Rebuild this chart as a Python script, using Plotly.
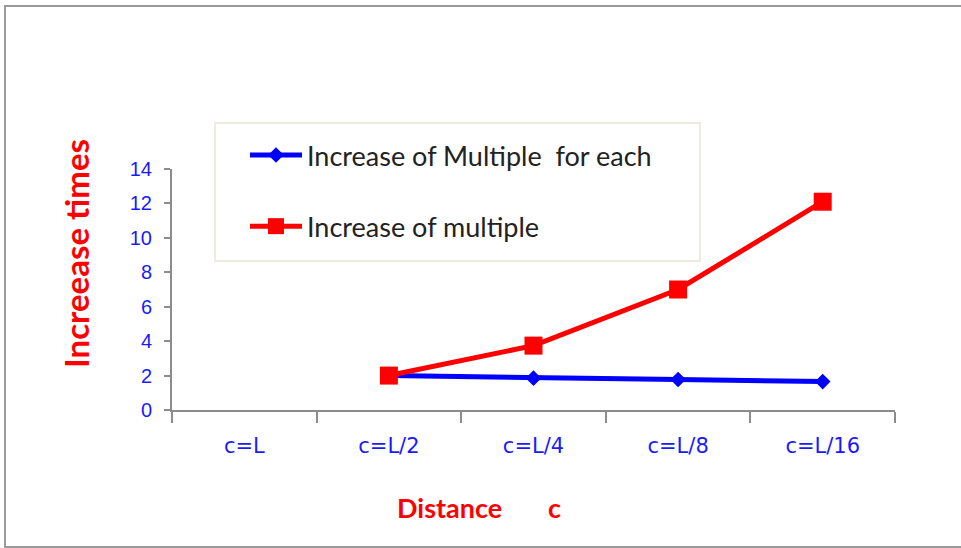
import plotly.graph_objects as go

# Distance categories along the x axis
distances = ["c=L", "c=L/2", "c=L/4", "c=L/8", "c=L/16"]

# Growth factors (no value at c=L)
multiple_each = [None, 2.0, 1.85, 1.77, 1.65]
multiple_total = [None, 2.0, 3.74, 7.0, 12.1]

y_ticks = [0, 2, 4, 6, 8, 10, 12, 14]

W, H = 961, 548
L, R, T, B = 172, 66, 169, 138
pw, ph = W - L - R, H - T - B


def px_x(x):
    return (x - L) / pw


def px_y(y):
    return (H - B - y) / ph


fig = go.Figure()

fig.add_trace(go.Scatter(
    x=distances, y=multiple_each, mode="lines+markers",
    name="Increase of Multiple  for each", legendgroup="a",
    line=dict(color="#0000ff", width=5),
    marker=dict(symbol="diamond", size=12, color="#0000ff"),
))
fig.add_trace(go.Scatter(
    x=distances, y=multiple_total, mode="lines+markers",
    name="Increase of multiple", legendgroup="b",
    line=dict(color="#ff0000", width=5),
    marker=dict(symbol="square", size=18, color="#ff0000"),
))

# outer frame and legend box
fig.add_shape(type="rect", xref="paper", yref="paper",
              x0=px_x(5), x1=px_x(970), y0=px_y(547), y1=px_y(6),
              line=dict(color="#9a9a9a", width=2), layer="below")
fig.add_shape(type="rect", xref="paper", yref="paper",
              x0=px_x(215), x1=px_x(700), y0=px_y(261), y1=px_y(123),
              line=dict(color="#e8e3d8", width=1.5), fillcolor="white", layer="below")

fig.add_annotation(text="<b>Increease times</b>", textangle=-90,
                   xref="paper", yref="paper", x=px_x(76), y=px_y(254),
                   xanchor="center", yanchor="middle",
                   showarrow=False, font=dict(family="Lato", size=33, color="#ff0000"))
fig.add_annotation(text="<b>Distance" + "\u00a0" * 7 + "c</b>",
                   xref="paper", yref="paper", x=px_x(479), y=px_y(507),
                   xanchor="center", yanchor="middle",
                   showarrow=False, font=dict(family="Lato", size=27, color="#ff0000"))

fig.update_layout(
    width=W, height=H,
    margin=dict(l=L, r=R, t=T, b=B),
    paper_bgcolor="white", plot_bgcolor="white",
    showlegend=True,
    legend=dict(x=px_x(245), y=px_y(131), xanchor="left", yanchor="top",
                bgcolor="rgba(0,0,0,0)", borderwidth=0, tracegroupgap=33,
                itemwidth=52,
                font=dict(family="Lato", size=27, color="#222222")),
)
fig.update_xaxes(
    type="category", range=[-0.5, 4.5],
    showline=True, linecolor="#8c8c8c", linewidth=2,
    ticks="outside", tickson="boundaries", ticklen=11, tickwidth=2, tickcolor="#8c8c8c",
    showgrid=False, zeroline=False, ticklabelstandoff=16,
    tickfont=dict(family="DejaVu Sans", size=21, color="#1a1aff"),
)
fig.update_yaxes(
    range=[0, 14], tickvals=y_ticks,
    showline=True, linecolor="#8c8c8c", linewidth=2,
    ticks="outside", ticklen=6, tickwidth=2, tickcolor="#8c8c8c",
    showgrid=False, zeroline=False, ticklabelstandoff=8,
    tickfont=dict(family="Liberation Sans", size=20, color="#1a1aff"),
)

fig.write_html("out.html")
